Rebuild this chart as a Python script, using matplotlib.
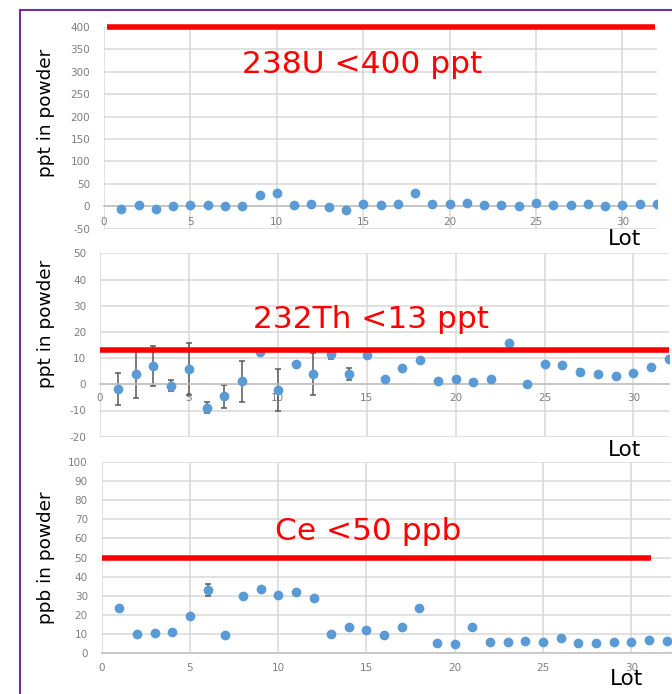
import matplotlib.pyplot as plt
from matplotlib.lines import Line2D
import numpy as np

plt.rcParams['font.family'] = ['DejaVu Sans']
plt.rcParams['axes.unicode_minus'] = False

W, H = 672, 694

lots = np.arange(1, 33)

# 238U, ppt
u238 = [-5, 2, -5, 0, 3, 3, 0, 0, 26, 29, 3, 5, -1, -9, 4, 2,
        6, 30, 4, 4, 8, 2, 2, 0, 8, 3, 2, 4, 0, 2, 4, 4]
u238_err = [0, 0, 4, 0, 0, 0, 0, 0, 0, 0, 0, 0, 0, 0, 0, 0,
            0, 0, 0, 0, 0, 0, 0, 0, 0, 0, 0, 0, 0, 0, 0, 0]

# 232Th, ppt
th232 = [-1.9, 3.8, 7.0, -0.5, 5.8, -9.0, -4.6, 1.1, 12.3, -2.2, 7.7, 3.9,
         11.5, 3.9, 11.1, 2.2, 6.2, 9.1, 1.1, 2.2, 0.8, 2.0, 15.6, 0.1,
         7.7, 7.2, 4.8, 3.8, 3.3, 4.4, 6.6, 9.5]
th232_err = [6.1, 9.0, 7.5, 2.2, 10.0, 2.1, 4.4, 7.7, 0, 8.0, 0, 8.1,
             1.8, 2.2, 0, 0, 0, 0, 0, 0, 0, 0, 0, 0,
             0, 1.0, 1.0, 0, 0, 0, 0, 0]

# Ce, ppb
ce = [23.5, 10.1, 10.8, 11.3, 19.5, 33.0, 9.7, 29.9, 33.6, 30.3, 32.2, 29.0,
      10.1, 13.9, 12.2, 9.6, 13.9, 23.5, 5.2, 4.7, 13.9, 6.1, 5.9, 6.4,
      5.9, 7.8, 5.6, 5.6, 5.9, 5.9, 6.8, 6.4]
ce_err = [0, 0, 0, 0, 0, 3.0, 0, 0, 0, 0, 0, 0, 0, 0, 0, 0,
          0, 0, 0, 0, 0, 0, 0, 0, 0, 0, 0, 0, 0, 0, 0, 0]

limits = [400, 13, 50]
limit_from = [0.15, 0, 0]
limit_to = [31.9, 32, 31.1]
titles = ['238U <400 ppt', '232Th <13 ppt', 'Ce <50 ppb']
ylabels = ['ppt in powder', 'ppt in powder', 'ppb in powder']
yticks = [np.arange(-50, 401, 50), np.arange(-20, 51, 10), np.arange(0, 101, 10)]
xticks = np.arange(0, 31, 5)

series = [(u238, u238_err), (th232, th232_err), (ce, ce_err)]

# panel boxes in pixels: left, right, top, bottom
boxes = [(104, 657, 27, 228.7), (100, 669, 253.3, 436.7), (101.7, 671, 461.7, 653.3)]
xmax = [32, 32, 32.25]
xpad = [8, 6, 7]
title_pos = [(362, 73), (371, 328), (368.5, 540)]
ylabel_y = [112.5, 323.5, 557.5]
lot_pos = [(624, 245), (625, 456), (627, 685)]

blue = '#5B9BD5'
red = '#FF0000'
grid_c = '#D9D9D9'
tick_c = '#7F7F7F'

fig = plt.figure(figsize=(W / 100, H / 100), dpi=100)

for i in range(3):
    l, r, t, b = boxes[i]
    ax = fig.add_axes([l / W, 1 - b / H, (r - l) / W, (b - t) / H])
    ax.set_xlim(0, xmax[i])
    ax.set_ylim(yticks[i][0], yticks[i][-1])
    ax.set_xticks(xticks)
    ax.set_yticks(yticks[i])
    ax.grid(True, color=grid_c, linewidth=1.1)
    ax.set_axisbelow(True)
    for s in ['top', 'right', 'left']:
        ax.spines[s].set_visible(False)
    ax.spines['bottom'].set_position(('data', 0))
    ax.spines['bottom'].set_color('#BFBFBF')
    ax.spines['bottom'].set_linewidth(1.1)
    ax.tick_params(axis='y', length=0, pad=10, labelsize=7.5, labelcolor=tick_c)
    ax.tick_params(axis='x', length=0, pad=xpad[i], labelsize=7.5, labelcolor=tick_c)

    vals, errs = series[i]
    # error bars first, dots on top of them
    ax.errorbar(lots, vals, yerr=errs, fmt='none', ecolor='#595959',
                elinewidth=1.1, capsize=2.5, capthick=1.1, zorder=2)
    ax.plot(lots, vals, 'o', color=blue, markersize=6, zorder=3)
    ax.plot([limit_from[i], limit_to[i]], [limits[i], limits[i]], color=red,
            linewidth=4, solid_capstyle='butt', zorder=4, clip_on=False)

    tx, ty = title_pos[i]
    fig.text(tx / W, 1 - ty / H, titles[i], color=red, fontsize=22.5,
             ha='center', va='baseline')
    fig.text(46 / W, 1 - ylabel_y[i] / H, ylabels[i], rotation=90,
             fontsize=13.3, ha='center', va='center')
    lx, ly = lot_pos[i]
    fig.text(lx / W, 1 - ly / H, 'Lot', fontsize=15.5, ha='center', va='baseline')

# purple frame, left and top edges
purple = '#7030A0'
fig.add_artist(Line2D([20 / W, 20 / W], [0, 1 - 10 / H], color=purple, linewidth=1.5))
fig.add_artist(Line2D([20 / W, 1], [1 - 10 / H, 1 - 10 / H], color=purple, linewidth=1.5))

plt.savefig('out.png', dpi=100)
